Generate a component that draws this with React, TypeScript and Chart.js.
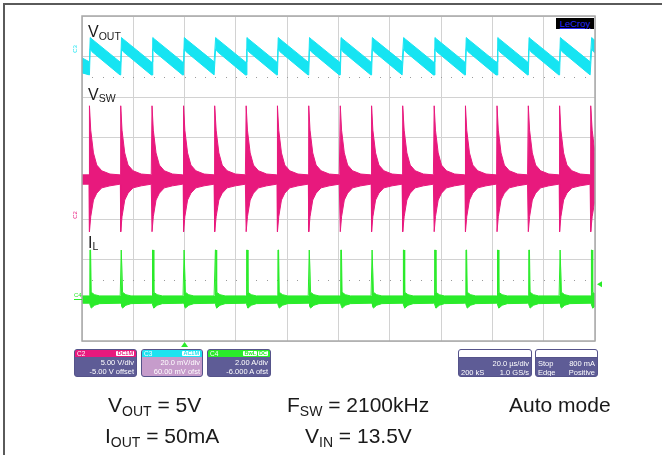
import React, { useEffect, useRef } from 'react';
import { Chart, registerables } from 'chart.js';
Chart.register(...registerables);

// ---------- data (time in µs, amplitude in screen divisions) ----------
const xMinUs = 0;
const xMaxUs = 200;
const xStepUs = 20;
const yMinDiv = -4;
const yMaxDiv = 4;

// switching burst instants
const spikeTimesUs = [2.9, 15.1, 27.3, 39.6, 51.8, 64.0, 76.2, 88.4, 100.7, 112.9, 125.1, 137.3, 149.5, 161.8, 174.0, 186.2, 198.4];

// VOUT (C3) envelope: lead-in, then one cycle after each burst
const voutLeadUs = [0];
const voutLeadUpper = [2.97];
const voutLeadLower = [2.6];
const voutCycleUs = [0, 0.3, 1.0, 11.9];
const voutCycleUpper = [2.87, 3.47, 3.43, 2.87];
const voutCycleLower = [2.55, 3.19, 3.12, 2.55];

// VSW (C2) envelope
const vswLeadUs = [0];
const vswLeadUpper = [0.09];
const vswLeadLower = [-0.14];
const vswCycleUs = [-0.15, 0, 0.5, 1.56, 2.86, 4.8, 8.0, 11.9];
const vswCycleUpper = [0.09, 1.79, 1.19, 0.63, 0.33, 0.19, 0.11, 0.09];
const vswCycleLower = [-0.14, -1.31, -0.94, -0.53, -0.36, -0.23, -0.18, -0.14];

// IL (C4) envelope
const ilLeadUs = [0];
const ilLeadUpper = [-2.89];
const ilLeadLower = [-3.07];
const ilCycleUs = [-0.2, 0.05, 0.2, 0.45, 0.7, 2.0, 4.0, 11.9];
const ilCycleUpper = [-2.89, -2.89, -1.76, -1.76, -2.8, -2.86, -2.89, -2.89];
const ilCycleLower = [-3.07, -3.07, -3.07, -3.15, -3.19, -3.12, -3.08, -3.07];

// markers
const triggerLevelDiv = -2.6;
const triggerPosUs = 40;
const dottedRowsDiv = [2.5, -2.5];
const dotSpacingUs = 4;

// text
const channelBoxes = [
  { name: 'C2', tags: ['DC1M'], head: '#e8197d', body: '#5e5c96', lines: ['5.00 V/div', '-5.00 V offset'], left: 74, width: 63 },
  { name: 'C3', tags: ['AC1M'], head: '#1ee3f0', body: '#c69ccb', lines: ['20.0 mV/div', '60.00 mV ofst'], left: 141, width: 62 },
  { name: 'C4', tags: ['BwL', 'DC'], head: '#2aeb2a', body: '#5e5c96', lines: ['2.00 A/div', '-6.000 A ofst'], left: 207, width: 64 },
];
const timebaseRows = [['', '20.0 µs/div'], ['200 kS', '1.0 GS/s']];
const triggerRows = [['Stop', '800 mA'], ['Edge', 'Positive']];

const CYAN = '#16e4f2';
const MAGENTA = '#e8197d';
const GREEN = '#2aeb2a';
const FONT = '"Liberation Sans", Arial, Helvetica, sans-serif';

type Pt = { x: number; y: number };
function buildBand(leadT: number[], leadUp: number[], leadLo: number[], cycT: number[], cycUp: number[], cycLo: number[]) {
  const up: Pt[] = [];
  const lo: Pt[] = [];
  let last = -Infinity;
  const push = (x: number, u: number, l: number) => {
    if (x > last) {
      up.push({ x, y: u });
      lo.push({ x, y: l });
      last = x;
    }
  };
  leadT.forEach((t, i) => push(t, leadUp[i], leadLo[i]));
  spikeTimesUs.forEach((s, k) => {
    const next = k + 1 < spikeTimesUs.length ? spikeTimesUs[k + 1] : Infinity;
    cycT.forEach((t, i) => {
      const x = s + t;
      if (x < next + cycT[0]) push(x, cycUp[i], cycLo[i]);
    });
  });
  return { up, lo };
}

const scopePlugin = {
  id: 'scope',
  beforeDatasetsDraw(chart: any) {
    const { ctx, chartArea, scales } = chart;
    const xs = scales.x;
    const ys = scales.y;
    ctx.save();
    ctx.fillStyle = '#9a9a9a';
    dottedRowsDiv.forEach((d) => {
      const y = Math.round(ys.getPixelForValue(d));
      for (let t = xMinUs + dotSpacingUs; t < xMaxUs; t += dotSpacingUs) {
        const x = Math.round(xs.getPixelForValue(t));
        if (x > chartArea.left + 2 && x < chartArea.right - 2) ctx.fillRect(x, y, 1, 1);
      }
    });
    ctx.restore();
  },
  afterDraw(chart: any) {
    const { ctx, chartArea, scales } = chart;
    ctx.save();
    ctx.strokeStyle = '#a8a8a8';
    ctx.lineWidth = 1.5;
    ctx.strokeRect(chartArea.left, chartArea.top, chartArea.right - chartArea.left, chartArea.bottom - chartArea.top);
    // trigger level marker (right)
    const ty = scales.y.getPixelForValue(triggerLevelDiv);
    ctx.fillStyle = GREEN;
    ctx.beginPath();
    ctx.moveTo(chartArea.right + 2, ty);
    ctx.lineTo(chartArea.right + 7, ty - 3);
    ctx.lineTo(chartArea.right + 7, ty + 3);
    ctx.closePath();
    ctx.fill();
    // trigger position marker (bottom)
    const tx = scales.x.getPixelForValue(triggerPosUs);
    ctx.beginPath();
    ctx.moveTo(tx, chartArea.bottom + 1);
    ctx.lineTo(tx - 3.5, chartArea.bottom + 6);
    ctx.lineTo(tx + 3.5, chartArea.bottom + 6);
    ctx.closePath();
    ctx.fill();
    ctx.restore();
  },
};

const Sub = ({ children, size, shift }: { children: any; size: number; shift: number }) => (
  <span style={{ fontSize: size, position: 'relative', top: shift }}>{children}</span>
);

function InfoBox({ left, width, head, headWhite, body, children }: any) {
  return (
    <div
      style={{
        position: 'absolute', left, top: 349, width, height: 28, boxSizing: 'border-box',
        border: '1px solid #55538a', borderRadius: 3, overflow: 'hidden', background: body,
      }}
    >
      <div
        style={{
          height: 7, background: headWhite ? '#ffffff' : head, borderBottom: headWhite ? '1px solid #55538a' : 'none',
          display: 'flex', justifyContent: 'space-between', alignItems: 'center', padding: '0 2px',
          fontSize: 6.5, lineHeight: '7px', color: '#fff',
        }}
      >
        {children[0]}
      </div>
      {children[1]}
    </div>
  );
}

export default function App() {
  const ref = useRef<HTMLCanvasElement>(null);

  useEffect(() => {
    const canvas = ref.current;
    if (!canvas) return;
    const vout = buildBand(voutLeadUs, voutLeadUpper, voutLeadLower, voutCycleUs, voutCycleUpper, voutCycleLower);
    const vsw = buildBand(vswLeadUs, vswLeadUpper, vswLeadLower, vswCycleUs, vswCycleUpper, vswCycleLower);
    const il = buildBand(ilLeadUs, ilLeadUpper, ilLeadLower, ilCycleUs, ilCycleUpper, ilCycleLower);
    const pair = (band: { up: Pt[]; lo: Pt[] }, color: string) => [
      { data: band.up, borderColor: color, borderWidth: 1, pointRadius: 0, fill: false, tension: 0 },
      { data: band.lo, borderColor: color, borderWidth: 1, pointRadius: 0, fill: '-1', backgroundColor: color, tension: 0 },
    ];
    const chart = new Chart(canvas, {
      type: 'line',
      data: { datasets: [...pair(vout, CYAN), ...pair(vsw, MAGENTA), ...pair(il, GREEN)] as any },
      options: {
        animation: false,
        responsive: false,
        maintainAspectRatio: false,
        devicePixelRatio: 1,
        layout: { padding: { left: 82, top: 16, right: 67, bottom: 114 } },
        plugins: { legend: { display: false }, tooltip: { enabled: false }, filler: { propagate: false } },
        scales: {
          x: {
            type: 'linear', min: xMinUs, max: xMaxUs,
            ticks: { display: false, stepSize: xStepUs },
            grid: { color: '#d2d2d2', lineWidth: 1, drawTicks: false },
            border: { display: false },
            afterFit: (s: any) => { s.height = 0; },
          },
          y: {
            type: 'linear', min: yMinDiv, max: yMaxDiv,
            ticks: { display: false, stepSize: 1 },
            grid: { color: '#d2d2d2', lineWidth: 1, drawTicks: false },
            border: { display: false },
            afterFit: (s: any) => { s.width = 0; },
          },
        },
      } as any,
      plugins: [scopePlugin as any],
    });
    return () => chart.destroy();
  }, []);

  const plotLabel = { position: 'absolute' as const, color: '#1a1a1a', fontSize: 16, lineHeight: '16px', whiteSpace: 'nowrap' as const };
  const bottomText = { position: 'absolute' as const, color: '#1a1a1a', fontSize: 21, lineHeight: '21px', whiteSpace: 'nowrap' as const };
  const tag = (t: string, color: string) => (
    <span key={t} style={{ background: '#fff', color, fontSize: 5.5, lineHeight: '5.5px', padding: '0 1px', borderRadius: 1, marginLeft: 1, fontWeight: 'bold' }}>{t}</span>
  );
  const bodyRow = { display: 'flex', justifyContent: 'space-between', fontSize: 7.5, lineHeight: '8.5px', color: '#fff', padding: '0 2px' };

  return (
    <div style={{ position: 'fixed', left: 0, top: 0, width: 662, height: 455, background: '#fff', overflow: 'hidden', fontFamily: FONT }}>
      <canvas ref={ref} width={662} height={455} style={{ position: 'absolute', left: 0, top: 0, width: 662, height: 455 }} />

      {/* trace labels */}
      <div style={{ ...plotLabel, left: 88, top: 24 }}>V<Sub size={10.5} shift={3}>OUT</Sub></div>
      <div style={{ ...plotLabel, left: 88, top: 86.5 }}>V<Sub size={10.5} shift={2.5}>SW</Sub></div>
      <div style={{ ...plotLabel, left: 88, top: 234.5 }}>I<Sub size={10.5} shift={2.5}>L</Sub></div>

      {/* ground markers */}
      <div style={{ position: 'absolute', left: 71, top: 46, fontSize: 6, lineHeight: '6px', color: CYAN, transform: 'rotate(-90deg)' }}>C3</div>
      <div style={{ position: 'absolute', left: 71, top: 212, fontSize: 6, lineHeight: '6px', color: MAGENTA, transform: 'rotate(-90deg)' }}>C2</div>
      <div style={{ position: 'absolute', left: 74, top: 292, fontSize: 6, lineHeight: '6px', color: GREEN }}>C4</div>
      <div style={{ position: 'absolute', left: 74, top: 299, width: 8, height: 1, background: GREEN }} />

      {/* LeCroy badge */}
      <div style={{ position: 'absolute', left: 556, top: 18, width: 38, height: 11, background: '#000', color: '#2a2aff', fontSize: 9.5, lineHeight: '11px', textAlign: 'center', textDecoration: 'underline' }}>LeCroy</div>

      {/* channel descriptor boxes */}
      {channelBoxes.map((b) => (
        <InfoBox key={b.name} left={b.left} width={b.width} head={b.head} body={b.body}>
          {[
            <React.Fragment key="h"><span>{b.name}</span><span style={{ display: 'flex' }}>{b.tags.map((t) => tag(t, b.head))}</span></React.Fragment>,
            <div key="b" style={{ paddingTop: 2 }}>
              {b.lines.map((l) => (
                <div key={l} style={{ ...bodyRow, justifyContent: 'flex-end' }}>{l}</div>
              ))}
            </div>,
          ]}
        </InfoBox>
      ))}
      <InfoBox left={458} width={74} headWhite body="#5e5c96">
        {[
          <span key="h" />,
          <div key="b" style={{ paddingTop: 2 }}>
            {timebaseRows.map((r) => (
              <div key={r.join()} style={bodyRow}><span>{r[0]}</span><span>{r[1]}</span></div>
            ))}
          </div>,
        ]}
      </InfoBox>
      <InfoBox left={535} width={63} headWhite body="#5e5c96">
        {[
          <span key="h" />,
          <div key="b" style={{ paddingTop: 2 }}>
            {triggerRows.map((r) => (
              <div key={r.join()} style={bodyRow}><span>{r[0]}</span><span>{r[1]}</span></div>
            ))}
          </div>,
        ]}
      </InfoBox>

      {/* conditions */}
      <div style={{ ...bottomText, left: 108, top: 394 }}>V<Sub size={14} shift={4}>OUT</Sub> = 5V</div>
      <div style={{ ...bottomText, left: 287, top: 394 }}>F<Sub size={14} shift={4}>SW</Sub> = 2100kHz</div>
      <div style={{ ...bottomText, left: 509, top: 394 }}>Auto mode</div>
      <div style={{ ...bottomText, left: 105, top: 425 }}>I<Sub size={14} shift={4}>OUT</Sub> = 50mA</div>
      <div style={{ ...bottomText, left: 305, top: 425 }}>V<Sub size={14} shift={4}>IN</Sub> = 13.5V</div>

      {/* outer frame (top and left edges only), drawn last */}
      <div style={{ position: 'absolute', left: 640, top: 0, width: 22, height: 455, background: '#fff' }} />
      <div style={{ position: 'absolute', left: 3, top: 3, width: 720, height: 2, background: '#5a5a5a' }} />
      <div style={{ position: 'absolute', left: 3, top: 3, width: 2, height: 500, background: '#5a5a5a' }} />
    </div>
  );
}
